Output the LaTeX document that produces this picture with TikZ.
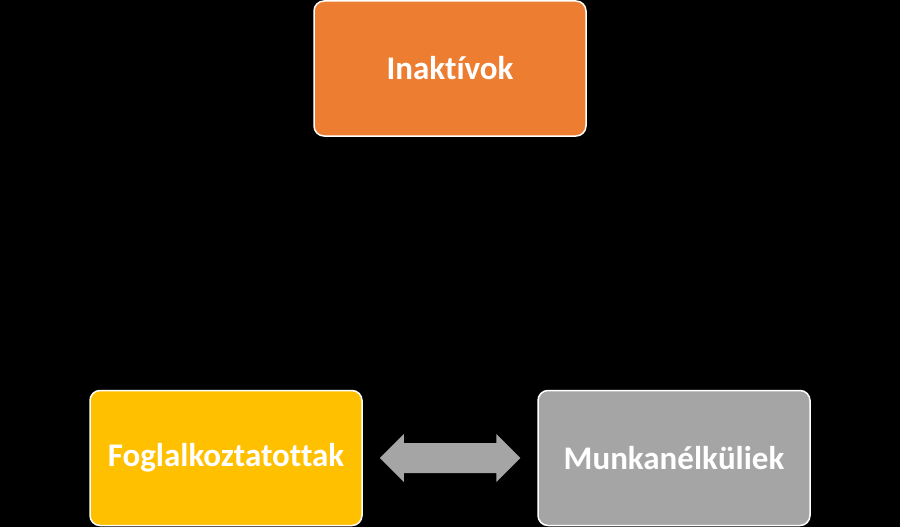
\documentclass[tikz,border=0pt]{standalone}
\usepackage{fontspec}
\setmainfont{Carlito}[Ligatures={NoCommon}]
\usetikzlibrary{calc}
\definecolor{cOrange}{HTML}{ED7D31}
\definecolor{cYellow}{HTML}{FFC000}
\definecolor{cGray}{HTML}{A5A5A5}
\tikzset{
  box/.style={draw=white, line width=1.5pt, rounded corners=10pt, minimum width=272pt, minimum height=135pt, inner sep=0pt, text=white, font=\fontsize{33}{36}\selectfont\bfseries},
}
\begin{document}
\begin{tikzpicture}[x=1pt,y=-1pt]
\fill[black] (0,0) rectangle (900,527);
\useasboundingbox (0,0) rectangle (900,527);
\node[box, fill=cOrange] (ina) at (450,68.5) {Inaktívok};
\node[box, fill=cYellow] (fog) at (226,458) {Foglalkoztatottak};
\node[box, fill=cGray] (mun) at (674,458) {Munkanélküliek};
\coordinate (aL) at ($(fog.east)+(17,0)$);
\coordinate (aR) at ($(mun.west)+(-17,0)$);
\fill[cGray] (aL) -- ++(24,-24) -- ++(0,9) -- ($(aR)+(-24,-15)$) -- ++(0,-9) -- (aR)
  -- ++(-24,24) -- ++(0,-9) -- ($(aL)+(24,15)$) -- ++(0,9) -- cycle;
\end{tikzpicture}
\end{document}
